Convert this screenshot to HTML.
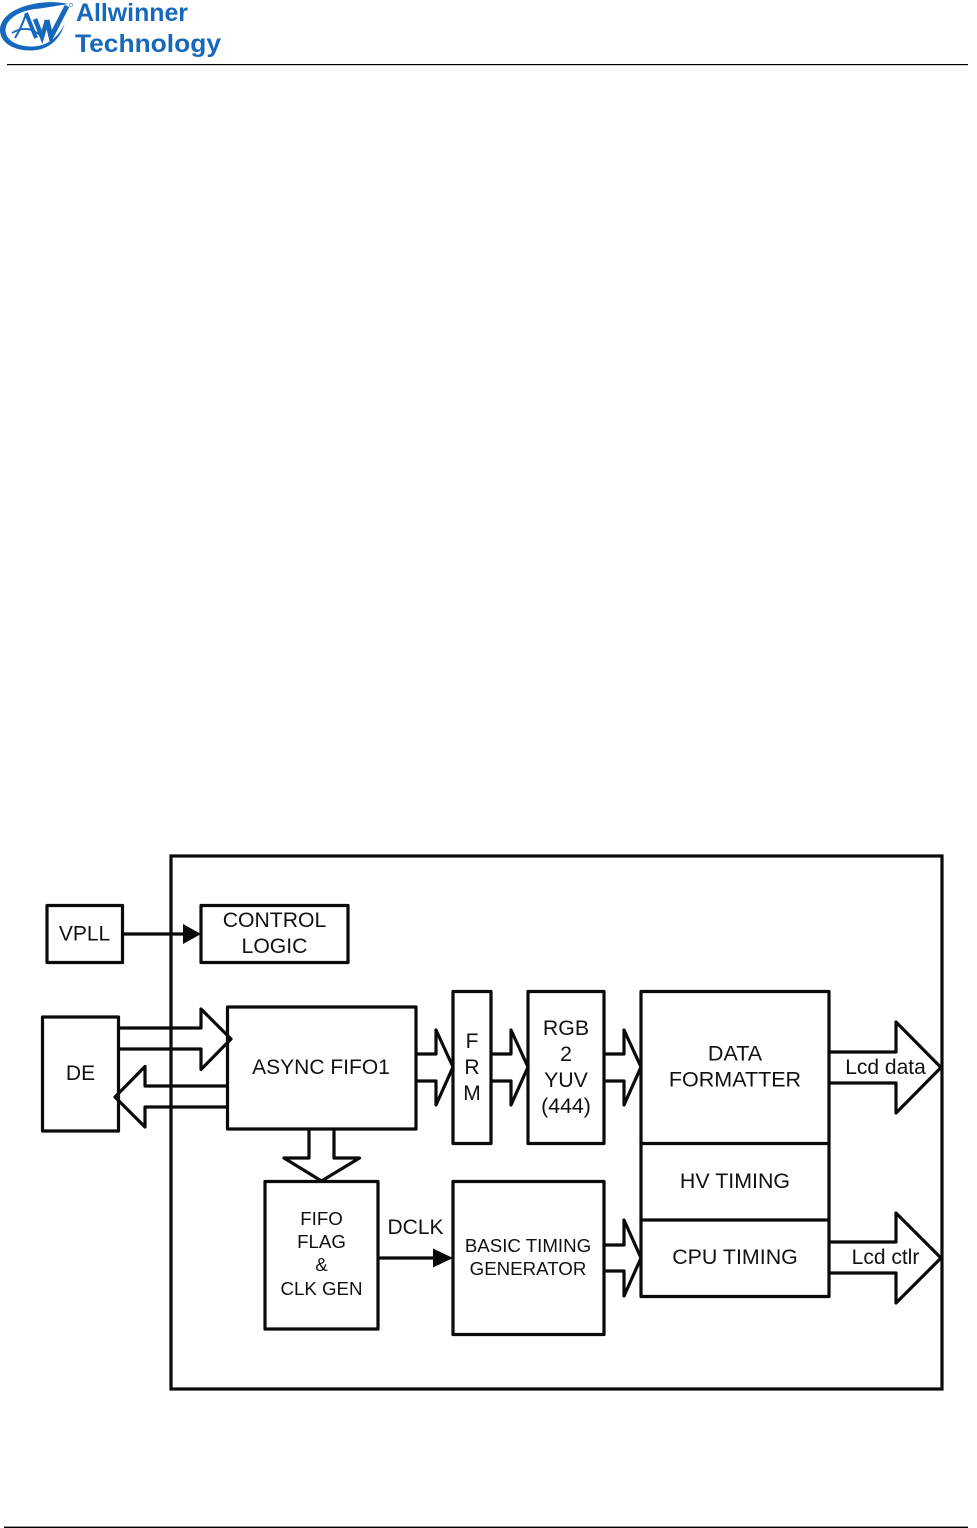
<!DOCTYPE html>
<html><head><meta charset="utf-8"><title>TCON block diagram</title>
<style>
html,body{margin:0;padding:0;background:#fff;width:977px;height:1528px;overflow:hidden}
svg{display:block;filter:blur(.3px)}
text{font-family:"Liberation Sans",sans-serif;fill:#111;text-anchor:middle}
.s{fill:#fff;stroke:#0a0a0a;stroke-width:3.2;stroke-linejoin:round}
.l{fill:none;stroke:#0a0a0a;stroke-width:3.2;stroke-linejoin:round;stroke-linecap:round}
.t{fill:#0a0a0a}
</style></head><body>
<svg width="977" height="1528" viewBox="0 0 977 1528" xmlns="http://www.w3.org/2000/svg">
<rect width="977" height="1528" fill="#fff"/>
<!-- logo -->
<path d="M68 4 C58 1.5 45 1.5 33 4 C13 8 0 18 0 30 C0 43 14 51 32 50.5 C48 50 60 40 64.5 24 C58 38 46 46.500 32 46.500 C15 46.500 5.500 39 5.500 30 C5.500 20 18 11 35 9 C45 8 55 6 68 4 Z" fill="#1668bd"/>
<path d="M15 38 C20 30 24 20 26 14" fill="none" stroke="#1668bd" stroke-width="2"/>
<path d="M26 13 L36 38" fill="none" stroke="#1668bd" stroke-width="4"/>
<path d="M12 33 C22 27 32 27 42 37" fill="none" stroke="#1668bd" stroke-width="1.800"/>
<path d="M35 19 L42 37 L47 20" fill="none" stroke="#1668bd" stroke-width="4.500" stroke-linejoin="miter"/>
<path d="M47 20 L51 37 L67 6" fill="none" stroke="#1668bd" stroke-width="5" stroke-linejoin="miter"/>
<circle cx="71" cy="5" r="1.6" fill="none" stroke="#5a8fcf" stroke-width=".7"/>
<text x="76" y="21" textLength="112" lengthAdjust="spacingAndGlyphs" font-size="25" font-weight="bold" style="fill:#1668bd;text-anchor:start">Allwinner</text>
<text x="75" y="52" textLength="146" lengthAdjust="spacingAndGlyphs" font-size="25" font-weight="bold" style="fill:#1668bd;text-anchor:start">Technology</text>
<rect x="7" y="64" width="961" height="1.2" fill="#000"/>
<rect x="4" y="1526.6" width="964" height="1.4" fill="#000"/>

<!-- outer -->
<rect x="171" y="856" width="771" height="533" fill="none" stroke="#0a0a0a" stroke-width="3.2"/>

<!-- VPLL / control -->
<rect class="s" x="47" y="905.5" width="75.5" height="57"/>
<rect class="s" x="201" y="905.5" width="147" height="57"/>
<line class="l" x1="123" y1="934" x2="186" y2="934"/>
<path class="t" d="M183 924 L201 934 L183 944 Z"/>
<text x="84.5" y="940.5" font-size="21">VPLL</text>
<text x="274.5" y="927" font-size="21.2">CONTROL</text>
<text x="274.5" y="953" font-size="21.2">LOGIC</text>

<!-- DE -->
<rect class="s" x="42.5" y="1017" width="76" height="114"/>
<text x="80.5" y="1080" font-size="21">DE</text>

<!-- ASYNC -->
<rect class="s" x="227.5" y="1007" width="188.5" height="122"/>
<text x="321" y="1074" font-size="21">ASYNC FIFO1</text>

<!-- DE to ASYNC -->
<path class="l" d="M119 1028 H201 V1009 L231 1039 L201 1069.5 V1049 H119"/>
<path class="l" d="M227 1086 H145 V1066.5 L115 1097 L145 1127 V1107 H227"/>

<!-- FRM -->
<rect class="s" x="453" y="991.5" width="38" height="152"/>
<text x="472" y="1048" font-size="21">F</text>
<text x="472" y="1074" font-size="21">R</text>
<text x="472" y="1100" font-size="21">M</text>

<!-- RGB2YUV -->
<rect class="s" x="528" y="991.5" width="76" height="152"/>
<text x="566" y="1035" font-size="21.3">RGB</text>
<text x="566" y="1061" font-size="21.3">2</text>
<text x="566" y="1087" font-size="21.3">YUV</text>
<text x="566" y="1113" font-size="21.3">(444)</text>

<!-- small block arrows -->
<path class="l" d="M417 1054 H436 V1030 L453 1067 L436 1105 V1081 H417"/>
<path class="l" d="M492 1054 H511 V1030 L528 1067 L511 1105 V1081 H492"/>
<path class="l" d="M605 1054 H624 V1030 L641 1067 L624 1105 V1081 H605"/>
<path class="l" d="M605 1245 H624 V1220 L641 1258 L624 1296 V1271 H605"/>

<!-- formatter stack -->
<rect class="s" x="641" y="991.5" width="188" height="305"/>
<line class="l" x1="641" y1="1143.5" x2="829" y2="1143.5"/>
<line class="l" x1="641" y1="1220" x2="829" y2="1220"/>
<text x="735" y="1060.5" font-size="21.5">DATA</text>
<text x="735" y="1086.5" font-size="21.5">FORMATTER</text>
<text x="735" y="1188" font-size="21.4">HV TIMING</text>
<text x="735" y="1264" font-size="21.4">CPU TIMING</text>

<!-- output arrows -->
<path class="l" d="M830 1052 H896 V1022 L941 1067.5 L896 1113 V1083 H830"/>
<path class="l" d="M830 1242 H896 V1213 L941 1258 L896 1303 V1273 H830"/>
<text x="885.5" y="1074" font-size="21">Lcd data</text>
<text x="885.5" y="1264" font-size="21">Lcd ctlr</text>

<!-- down arrow -->
<path class="l" d="M309 1130 V1158 H284 L321.5 1181 L359.5 1158 H334 V1130"/>

<!-- FIFO -->
<rect class="s" x="265" y="1181.5" width="113" height="147.5"/>
<text x="321.5" y="1225" font-size="18.7">FIFO</text>
<text x="321.5" y="1248" font-size="18.7">FLAG</text>
<text x="321.5" y="1271" font-size="18.7">&amp;</text>
<text x="321.5" y="1295" font-size="18.7">CLK GEN</text>

<!-- DCLK -->
<line class="l" x1="379" y1="1258" x2="436" y2="1258"/>
<path class="t" d="M433 1248.5 L453 1258 L433 1267.5 Z"/>
<text x="415.5" y="1234" font-size="21">DCLK</text>

<!-- basic -->
<rect class="s" x="453" y="1181.5" width="151" height="153"/>
<text x="528" y="1252" font-size="18.7">BASIC TIMING</text>
<text x="528" y="1275" font-size="18.7">GENERATOR</text>
</svg>
</body></html>
